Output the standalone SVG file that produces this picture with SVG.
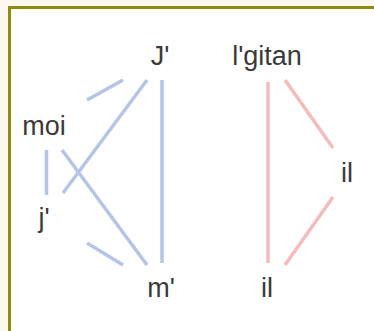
<svg xmlns="http://www.w3.org/2000/svg" width="374" height="331" viewBox="0 0 374 331">
<style>
.lbl{font-family:"Liberation Sans",Arial,sans-serif;font-size:27px;fill:#3a3a3a;text-anchor:middle}
.b{stroke:#b5c5e6;stroke-width:3.5;fill:none}
.p{stroke:#f5bcbc;stroke-width:3.5;fill:none}
</style>
<rect x="0" y="0" width="374" height="331" fill="#fcf8f0"/>
<rect x="9.5" y="7.5" width="370" height="330" fill="#ffffff" stroke="#8c8c0a" stroke-width="3"/>
<g id="connectors">
<line class="b" x1="87" y1="100" x2="123" y2="80"/>
<line class="b" x1="147" y1="80" x2="63" y2="193"/>
<line class="b" x1="162" y1="80" x2="162" y2="263"/>
<line class="b" x1="46.5" y1="150" x2="46.5" y2="195"/>
<line class="b" x1="62" y1="150" x2="147" y2="265"/>
<line class="b" x1="87" y1="243" x2="123" y2="265"/>
<line class="p" x1="268" y1="82" x2="268" y2="263"/>
<line class="p" x1="285" y1="80" x2="333" y2="148"/>
<line class="p" x1="333" y1="197" x2="285" y2="265"/>
</g>
<g id="n-J"><text class="lbl" x="160" y="65">J'</text></g>
<g id="n-lgitan"><text class="lbl" x="267" y="65">l'gitan</text></g>
<g id="n-moi"><text class="lbl" x="44" y="135">moi</text></g>
<g id="n-j"><text class="lbl" x="44" y="227">j'</text></g>
<g id="n-m"><text class="lbl" x="161" y="297">m'</text></g>
<g id="n-il-bottom"><text class="lbl" x="267" y="297">il</text></g>
<g id="n-il-right"><text class="lbl" x="347" y="182">il</text></g>
</svg>
